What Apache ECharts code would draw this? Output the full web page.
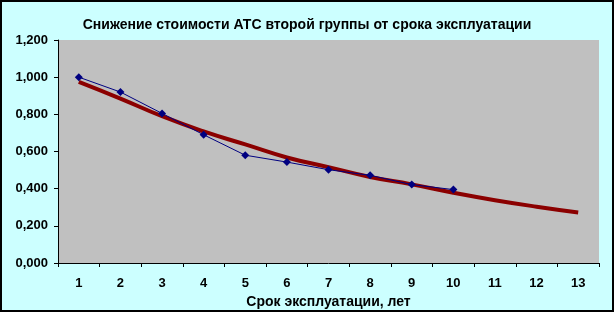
<!DOCTYPE html>
<html>
<head>
<meta charset="utf-8">
<script src="https://cdn.jsdelivr.net/npm/echarts@6/dist/echarts.min.js"></script>
<style>
html,body{margin:0;padding:0;background:#fff;}
#wrap{position:absolute;left:0;top:0;width:610px;height:308px;border:2px solid #000;background:#CCFFFF;}
#chart{width:610px;height:308px;}
</style>
</head>
<body>
<div id="wrap"><div id="chart"></div></div>
<script>
var titleText = 'Снижение стоимости АТС второй группы от срока эксплуатации';
var xAxisName = 'Срок эксплуатации, лет';
var categories = ['1','2','3','4','5','6','7','8','9','10','11','12','13'];
var actualValues = [1.000, 0.920, 0.805, 0.690, 0.580, 0.543, 0.502, 0.472, 0.422, 0.395];
var trendValues = [0.975, 0.885, 0.790, 0.708, 0.638, 0.568, 0.516, 0.463, 0.423, 0.378, 0.338, 0.303, 0.272];

var chart = echarts.init(document.getElementById('chart'), null, {renderer:'canvas'});
var font = 'Liberation Sans, Arial, sans-serif';
chart.setOption({
  backgroundColor: 'transparent',
  animation: false,
  title: {
    text: titleText, left: 'center', top: 11,
    textStyle: {fontFamily: font, fontSize: 14, fontWeight: 'bold', color: '#000'}
  },
  grid: {left: 56, right: 13, top: 38, bottom: 47, show: true, backgroundColor: '#C0C0C0', borderWidth: 0,
    containLabel: false, outerBoundsMode: 'none'},
  xAxis: {
    type: 'category', data: categories, boundaryGap: true,
    name: xAxisName, nameLocation: 'middle', nameGap: 29,
    nameTextStyle: {fontFamily: font, fontSize: 14, fontWeight: 'bold', color: '#000'},
    axisLine: {lineStyle: {color: '#000', width: 1}},
    axisTick: {show: true, inside: false, length: 4, lineStyle: {color: '#000'}},
    axisLabel: {fontFamily: font, fontSize: 13, fontWeight: 'bold', color: '#000', margin: 14},
    splitLine: {show: false}
  },
  yAxis: {
    type: 'value', min: 0, max: 1.2, interval: 0.2,
    axisLine: {show: true, lineStyle: {color: '#000', width: 1}},
    axisTick: {show: true, inside: false, length: 4, lineStyle: {color: '#000'}},
    axisLabel: {fontFamily: font, fontSize: 13, fontWeight: 'bold', color: '#000', margin: 10,
      formatter: function(v){ return v.toFixed(3).replace('.', ','); }},
    splitLine: {show: false}
  },
  series: [
    {
      type: 'line', data: trendValues, smooth: true, symbol: 'none',
      lineStyle: {color: '#8B0000', width: 4}, z: 2
    },
    {
      type: 'line', data: actualValues, symbol: 'diamond', symbolSize: 8,
      itemStyle: {color: '#000080'},
      lineStyle: {color: '#000080', width: 1}, z: 3
    }
  ]
});
</script>
</body>
</html>
